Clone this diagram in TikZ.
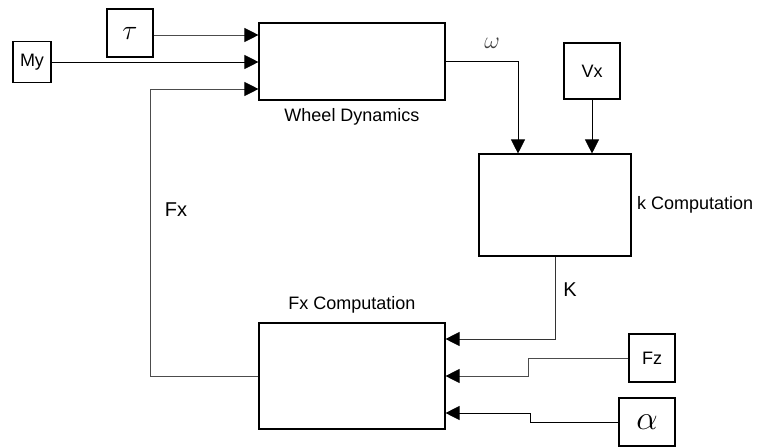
\RequirePackage{fix-cm}
\documentclass[tikz,border=0pt]{standalone}
\usepackage{fontspec}
\setmainfont{Liberation Sans}
\usetikzlibrary{arrows.meta,calc}

\tikzset{
  blk/.style={draw, line width=1.1pt, inner sep=0pt, font=\fontsize{18}{20}\selectfont},
  sig/.style={-{Triangle[length=14pt,width=14pt,color=black]}, line width=0.8pt},
  lbl/.style={font=\fontsize{18}{20}\selectfont},
}

\begin{document}
\begin{tikzpicture}[x=1pt, y=-1pt]
    \useasboundingbox (0,0) rectangle (757,447);
    \node[blk, minimum width=186pt, minimum height=77pt] (wd) at (352,61.5) {};
    \node[blk, minimum width=46pt, minimum height=48pt] (tau) at (130,33) {\fontsize{28}{30}\selectfont$\tau$};
    \node[blk, minimum width=38pt, minimum height=41pt] (my) at (32,62) {My};
    \node[blk, minimum width=56pt, minimum height=56pt] (vx) at (592,71) {Vx};
    \node[blk, minimum width=152pt, minimum height=102pt] (kc) at (555,205) {};
    \node[blk, minimum width=186pt, minimum height=106pt] (fx) at (352,376) {};
    \node[blk, minimum width=46pt, minimum height=48pt] (fz) at (652,358) {Fz};
    \node[blk, minimum width=56pt, minimum height=48pt] (al) at (647,422) {\fontsize{34}{36}\selectfont$\alpha$};

    \coordinate (w1) at ($(wd.west)+(0,-26.5)$);
    \coordinate (w3) at ($(wd.west)+(0,27.5)$);
    \coordinate (k1) at ($(kc.north)+(-37,0)$);
    \coordinate (f1) at ($(fx.east)+(0,-37)$);
    \coordinate (f3) at ($(fx.east)+(0,37)$);

    \draw[sig, black!70] (tau.east |- w1) -- (w1);
    \draw[sig] (my.east) -- (my.east -| wd.west);
    \draw[sig, black!70] (fx.west) -- ++(-108,0) |- (w3);
    \draw[sig] (wd.east) -| (k1);
    \draw[sig] (vx.south) -- (vx.south |- kc.north);
    \draw[sig, black!80] (kc.south) |- (f1);
    \draw[sig, black!70] (fz.west) -- ++(-100,0) |- (fx.east);
    \draw[sig] (al.west) -- ++(-88,0) |- (f3);

    \node[lbl] (wdlab) at (352,117) {Wheel Dynamics};
    \node[lbl] (fxlab) at (352,305) {Fx Computation};
    \node[lbl, anchor=west, inner sep=0pt] (kclab) at (637,205) {k Computation};
    \node[black!75] (om) at (492,43) {\fontsize{24}{26}\selectfont$\omega$};
    \node[font=\fontsize{20}{22}\selectfont] (klab) at (570,290) {K};
    \node[font=\fontsize{20}{22}\selectfont] (fxsig) at (176,210) {Fx};
\end{tikzpicture}
\end{document}
